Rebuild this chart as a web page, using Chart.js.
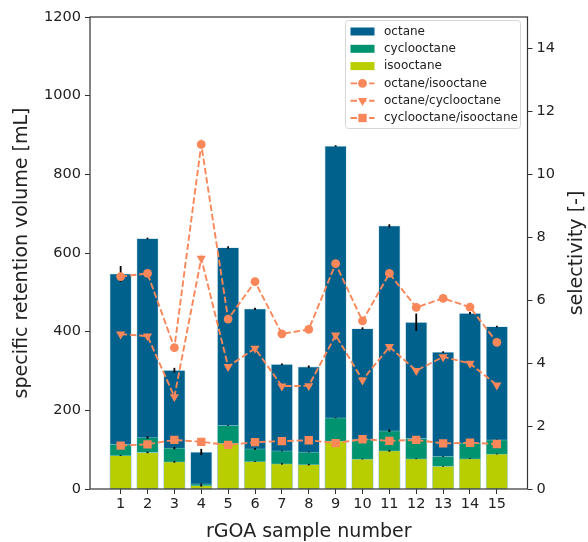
<!DOCTYPE html>
<html>
<head>
<meta charset="utf-8">
<script src="https://cdn.jsdelivr.net/npm/chart.js@4/dist/chart.umd.min.js"></script>
<style>
html, body { margin: 0; padding: 0; background: #fff; }
#chart { display: block; }
</style>
</head>
<body>
<canvas id="chart" width="588" height="542"></canvas>
<script>
'use strict';
// values
const samples = [1, 2, 3, 4, 5, 6, 7, 8, 9, 10, 11, 12, 13, 14, 15];
const octane = [547, 637, 302, 94, 614, 458, 317, 311, 872, 408, 669, 424, 348, 447, 413];
const cyclooctane = [114, 131, 104, 13, 162, 102, 97, 94, 181, 127, 148, 129, 83, 117, 125];
const isooctane = [85, 93, 69, 9, 116, 70, 64, 62, 122, 76, 97, 77, 58, 77, 89];
const octaneErr = [20, 2, 6, 8, 3, 3, 2, 3, 2, 3, 4, 22, 2, 3, 2];
const cyclooctaneErr = [2, 3, 3, 1, 1, 2, 1, 1, 1, 1, 3, 1, 1, 1, 1];
const isooctaneErr = [1, 2, 2, 3, 1, 1, 2, 2, 1, 1, 2, 1, 1, 1, 1];
const octIso = [6.75, 6.85, 4.49, 10.95, 5.40, 6.59, 4.93, 5.07, 7.16, 5.34, 6.85, 5.77, 6.06, 5.78, 4.66];
const octCyc = [4.92, 4.86, 2.93, 7.33, 3.89, 4.47, 3.27, 3.28, 4.89, 3.46, 4.52, 3.76, 4.20, 3.99, 3.30];
const cycIso = [1.38, 1.42, 1.56, 1.50, 1.40, 1.49, 1.52, 1.55, 1.46, 1.58, 1.53, 1.56, 1.45, 1.47, 1.43];
const volumeTicks = [0, 200, 400, 600, 800, 1000, 1200];
const selectivityTicks = [0, 2, 4, 6, 8, 10, 12, 14];

const FONT = 'DejaVu Sans';
const ORANGE = '#f9875a';
const pts = vals => vals.map((v, i) => ({x: samples[i], y: v}));

const barSet = (label, vals, errs, color, order) => ({
    type: 'bar',
    label: label,
    data: pts(vals),
    errors: errs,
    backgroundColor: color,
    borderColor: 'rgba(190,220,235,0.7)',
    borderWidth: 0.8,
    barThickness: 21.6,
    grouped: false,
    order: order,
    yAxisID: 'y'
});

const lineSet = (label, vals, style, radius, rotation) => ({
    type: 'line',
    label: label,
    data: pts(vals),
    borderColor: ORANGE,
    backgroundColor: ORANGE,
    borderWidth: 1.9,
    borderDash: [6.5, 2.8],
    pointStyle: style,
    pointRadius: radius,
    pointRotation: rotation,
    pointBorderWidth: 0,
    order: 0,
    yAxisID: 'y2'
});

// black error bars on top of each bar dataset
const errorBars = {
    id: 'errorBars',
    afterDatasetDraw(chart, args) {
        const ds = chart.data.datasets[args.index];
        if (!ds.errors) return;
        const ctx = chart.ctx, y = chart.scales.y;
        ctx.save();
        ctx.strokeStyle = '#000';
        ctx.lineWidth = 1.8;
        args.meta.data.forEach((bar, i) => {
            const v = ds.data[i].y, e = ds.errors[i];
            ctx.beginPath();
            ctx.moveTo(bar.x, y.getPixelForValue(v - e));
            ctx.lineTo(bar.x, y.getPixelForValue(v + e));
            ctx.stroke();
        });
        ctx.restore();
    }
};

// axes frame on all four sides, right axis title, legend box
const frameAndLegend = {
    id: 'frameAndLegend',
    afterDraw(chart) {
        const ctx = chart.ctx, a = chart.chartArea;
        ctx.save();
        ctx.strokeStyle = '#333';
        ctx.lineWidth = 1.2;
        ctx.strokeRect(a.left, a.top, a.right - a.left, a.bottom - a.top);

        // right title reads bottom-to-top like matplotlib
        ctx.save();
        ctx.translate(chart.width - 11, (a.top + a.bottom) / 2);
        ctx.rotate(-Math.PI / 2);
        ctx.font = '19px "' + FONT + '"';
        ctx.fillStyle = '#222';
        ctx.textAlign = 'center';
        ctx.textBaseline = 'middle';
        ctx.fillText('selectivity [-]', 0, 0);
        ctx.restore();

        const w = 175, h = 108;
        const left = a.right - 7 - w, top = a.top + 3.5;
        ctx.beginPath();
        ctx.roundRect(left, top, w, h, 3);
        ctx.fillStyle = 'rgba(255,255,255,0.8)';
        ctx.fill();
        ctx.strokeStyle = '#d6d6d6';
        ctx.lineWidth = 1;
        ctx.stroke();

        ctx.font = '12px "' + FONT + '"';
        ctx.textBaseline = 'middle';
        chart.data.datasets.forEach((ds, i) => {
            const y = top + 11 + i * 17.3;
            const x0 = left + 5, x1 = left + 29;
            if (ds.type === 'bar') {
                ctx.fillStyle = ds.backgroundColor;
                ctx.fillRect(x0, y - 4, x1 - x0, 8);
            } else {
                ctx.save();
                ctx.strokeStyle = ds.borderColor;
                ctx.lineWidth = ds.borderWidth;
                ctx.setLineDash([6.5, 2.8]);
                ctx.beginPath();
                ctx.moveTo(x0, y);
                ctx.lineTo(x1, y);
                ctx.stroke();
                ctx.restore();
                ctx.fillStyle = ORANGE;
                ctx.strokeStyle = ORANGE;
                Chart.helpers.drawPoint(ctx, {
                    pointStyle: ds.pointStyle,
                    radius: ds.pointRadius,
                    rotation: ds.pointRotation,
                    borderWidth: 0
                }, (x0 + x1) / 2, y);
            }
            ctx.fillStyle = '#222';
            ctx.textAlign = 'left';
            ctx.fillText(ds.label, left + 38.5, y);
        });
        ctx.restore();
    }
};

const tickFont = {family: FONT, size: 14.5};
const titleFont = {family: FONT, size: 19, lineHeight: 1};
const plain = v => String(v);

new Chart(document.querySelector('#chart'), {
    data: {
        datasets: [
            barSet('octane', octane, octaneErr, '#00618d', 3),
            barSet('cyclooctane', cyclooctane, cyclooctaneErr, '#00936f', 2),
            barSet('isooctane', isooctane, isooctaneErr, '#b9ce00', 1),
            lineSet('octane/isooctane', octIso, 'circle', 4.4, 0),
            lineSet('octane/cyclooctane', octCyc, 'triangle', 5.3, 180),
            lineSet('cyclooctane/isooctane', cycIso, 'rect', 5.9, 0)
        ]
    },
    plugins: [errorBars, frameAndLegend],
    options: {
        responsive: false,
        animation: false,
        layout: {padding: {top: 17, left: 0, right: 0, bottom: 0}},
        plugins: {legend: {display: false}, tooltip: {enabled: false}},
        scales: {
            x: {
                type: 'linear',
                offset: false,
                min: -0.14,
                max: 16.14,
                afterBuildTicks: s => { s.ticks = samples.map(v => ({value: v})); },
                afterFit: s => { s.height = 53; },
                grid: {drawOnChartArea: false, tickLength: 5, color: '#333', offset: false},
                border: {display: false},
                ticks: {font: tickFont, color: '#222', padding: 2, maxRotation: 0, autoSkip: false, callback: plain},
                title: {display: true, text: 'rGOA sample number', font: titleFont, color: '#222', padding: {top: 0, bottom: 0.5}}
            },
            y: {
                position: 'left',
                min: 0,
                max: 1200,
                afterBuildTicks: s => { s.ticks = volumeTicks.map(v => ({value: v})); },
                afterFit: s => { s.width = 90; },
                grid: {drawOnChartArea: false, tickLength: 5, color: '#333'},
                border: {display: false},
                ticks: {font: tickFont, color: '#222', padding: 4, callback: plain},
                title: {display: true, text: 'specific retention volume [mL]', font: titleFont, color: '#222', padding: {top: 12.5, bottom: 0}}
            },
            y2: {
                position: 'right',
                min: 0,
                max: 15,
                afterBuildTicks: s => { s.ticks = selectivityTicks.map(v => ({value: v})); },
                afterFit: s => { s.width = 60.5; },
                grid: {drawOnChartArea: false, tickLength: 5, color: '#333'},
                border: {display: false},
                ticks: {font: tickFont, color: '#222', padding: 4, callback: plain}
            }
        }
    }
});
</script>
</body>
</html>
